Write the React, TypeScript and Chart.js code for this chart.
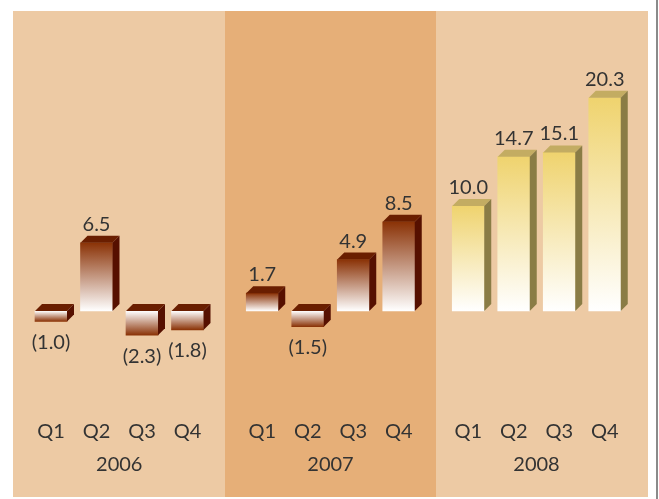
import React, { useEffect, useRef } from "react";
import { Chart, registerables } from "chart.js";

Chart.register(...registerables);

const quarters = ["Q1", "Q2", "Q3", "Q4"];
const years = ["2006", "2007", "2008"];
const values2006 = [-1.0, 6.5, -2.3, -1.8];
const values2007 = [1.7, -1.5, 4.9, 8.5];
const values2008 = [10.0, 14.7, 15.1, 20.3];
const valuesByYear = [values2006, values2007, values2008];

const panelColors = ["#EDCAA4", "#E6AF78", "#EDCAA4"];
const faceColors = ["#8A3206", "#8A3206", "#EFD36E"];
const topColors = ["#6A1E00", "#6A1E00", "#C3AC62"];
const sideColors = ["#561000", "#561000", "#8A7C45"];

const TEXT = "#333333";
const FONT = "Lato, 'Open Sans', sans-serif";

const panelLefts = [13, 225, 436];
const panelWidths = [212, 211, 212];
const padLefts = [15.25, 14.5, 9.5];
const DEPTH = 7;

const fmt = (v: number) => (v < 0 ? `(${Math.abs(v).toFixed(1)})` : v.toFixed(1));

function Panel({ idx }: { idx: number }) {
  const ref = useRef<HTMLCanvasElement | null>(null);
  useEffect(() => {
    const canvas = ref.current;
    if (!canvas) return;
    const values = valuesByYear[idx];
    const plugin = {
      id: "bar3d",
      afterDatasetsDraw(chart: any) {
        const ctx = chart.ctx;
        const meta = chart.getDatasetMeta(0);
        ctx.save();
        meta.data.forEach((el: any, i: number) => {
          const { x, y, base, width } = el.getProps(["x", "y", "base", "width"], true);
          const xL = x - width / 2;
          const xR = x + width / 2;
          const yTop = Math.min(y, base);
          const yBot = Math.max(y, base);
          ctx.fillStyle = topColors[idx];
          ctx.beginPath();
          ctx.moveTo(xL, yTop);
          ctx.lineTo(xL + DEPTH, yTop - DEPTH);
          ctx.lineTo(xR + DEPTH, yTop - DEPTH);
          ctx.lineTo(xR, yTop);
          ctx.closePath();
          ctx.fill();
          ctx.fillStyle = sideColors[idx];
          ctx.beginPath();
          ctx.moveTo(xR, yTop);
          ctx.lineTo(xR + DEPTH, yTop - DEPTH);
          ctx.lineTo(xR + DEPTH, yBot - DEPTH);
          ctx.lineTo(xR, yBot);
          ctx.closePath();
          ctx.fill();
          const v = values[i];
          ctx.fillStyle = TEXT;
          ctx.font = `20px ${FONT}`;
          ctx.textAlign = "center";
          if (v >= 0) {
            ctx.textBaseline = "alphabetic";
            ctx.fillText(fmt(v), x, yTop - DEPTH - 5);
          } else {
            ctx.textBaseline = "middle";
            ctx.fillText(fmt(v), x, yBot + 21);
          }
        });
        ctx.restore();
      },
    };
    const chart = new Chart(canvas, {
      type: "bar",
      data: {
        labels: quarters,
        datasets: [
          {
            data: values,
            barThickness: 32,
            borderWidth: 0,
            backgroundColor: (c: any) => {
              const ys = c.chart.scales?.y;
              if (!ys || c.parsed == null) return faceColors[idx];
              const yv = ys.getPixelForValue(c.parsed.y);
              const y0 = ys.getPixelForValue(0);
              if (!isFinite(yv) || !isFinite(y0) || yv === y0) return faceColors[idx];
              const g = c.chart.ctx.createLinearGradient(0, yv, 0, y0);
              g.addColorStop(0, faceColors[idx]);
              g.addColorStop(1, "#FFFFFF");
              return g;
            },
          },
        ],
      },
      options: {
        animation: false,
        responsive: false,
        maintainAspectRatio: false,
        layout: {
          padding: {
            left: padLefts[idx],
            right: panelWidths[idx] - padLefts[idx] - 182,
            top: 27,
            bottom: 0,
          },
        },
        plugins: {
          legend: { display: false },
          tooltip: { enabled: false },
        },
        scales: {
          x: {
            grid: {
              display: true,
              drawOnChartArea: false,
              drawTicks: true,
              tickLength: 56,
              color: "rgba(0,0,0,0)",
            },
            border: { display: false },
            ticks: { padding: 0, color: TEXT, font: { family: FONT, size: 20 }, maxRotation: 0, autoSkip: false },
            title: {
              display: true,
              text: years[idx],
              color: TEXT,
              font: { family: FONT, size: 20 },
              padding: { top: 0, bottom: 20 },
            },
            afterFit: (s: any) => {
              s.height = 133.5;
              s.paddingLeft = 0;
              s.paddingRight = 0;
            },
          },
          y: { display: false, min: -5, max: 26 },
        },
      },
      plugins: [plugin],
    } as any);
    return () => chart.destroy();
  }, [idx]);
  return (
    <div
      style={{
        position: "absolute",
        left: panelLefts[idx],
        top: 11,
        width: panelWidths[idx],
        height: 486,
        background: panelColors[idx],
      }}
    >
      <canvas ref={ref} width={panelWidths[idx]} height={486} style={{ display: "block" }} />
    </div>
  );
}

export default function App() {
  return (
    <div style={{ position: "absolute", left: 0, top: 0, width: 659, height: 499, background: "#fff" }}>
      {years.map((_, i) => (
        <Panel key={i} idx={i} />
      ))}
      <div style={{ position: "absolute", left: 656, top: 0, width: 2, height: 499, background: "#8a8a8a" }} />
    </div>
  );
}
